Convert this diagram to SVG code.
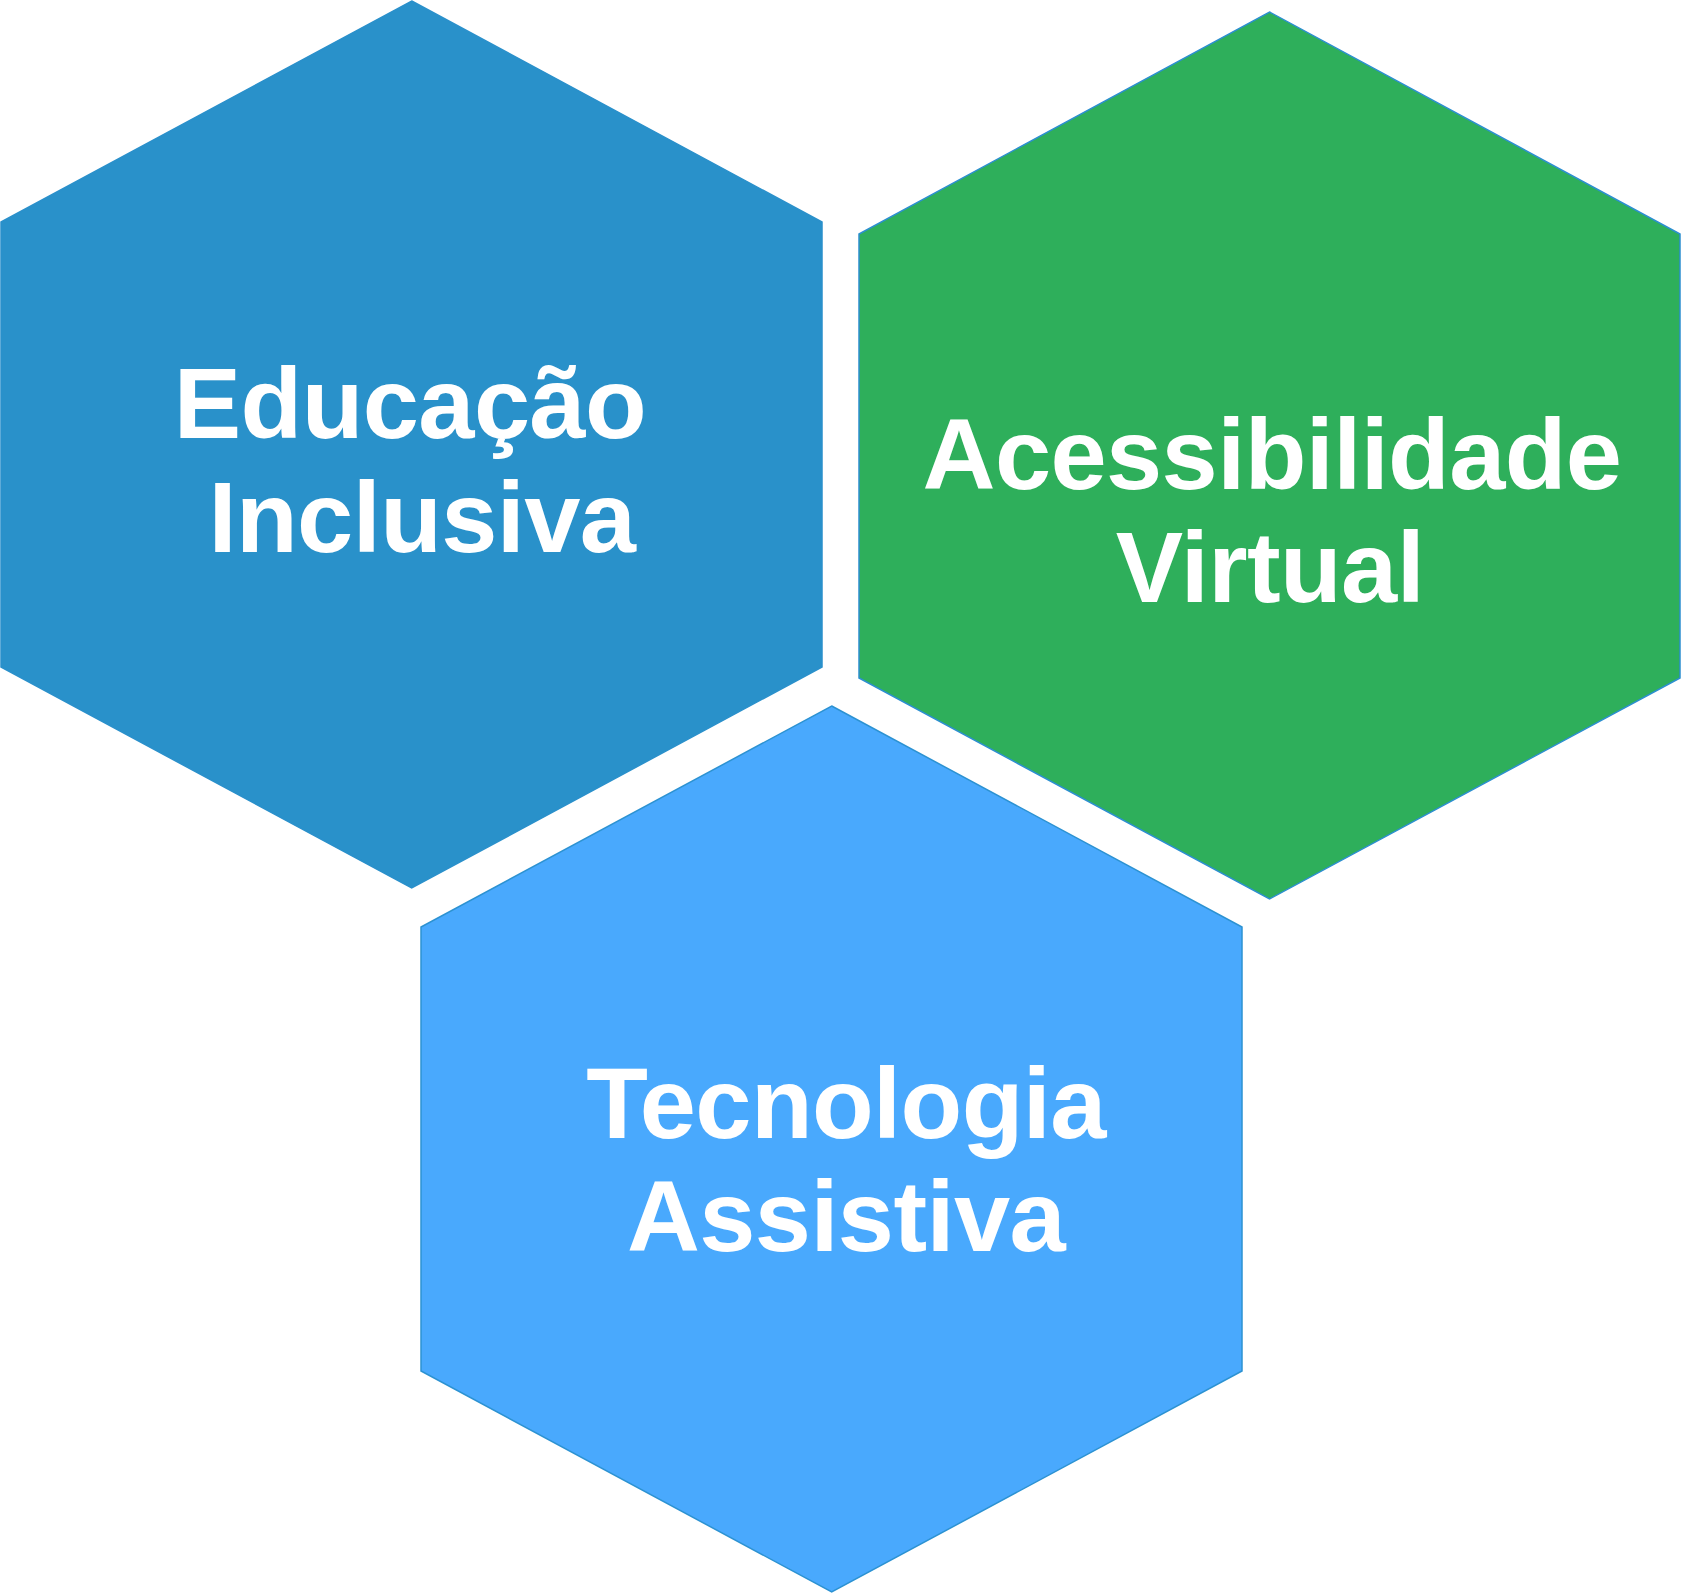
<svg xmlns="http://www.w3.org/2000/svg" width="1681" height="1594" viewBox="0 0 1681 1594">
<style>
.hex{stroke-width:1.5;stroke-linejoin:miter}
.lbl{font-family:"Liberation Sans",Arial,sans-serif;font-weight:bold;font-size:101px;letter-spacing:-0.6px;fill:#ffffff;text-anchor:middle}
</style>
<rect x="0" y="0" width="1681" height="1594" fill="#ffffff"/>
<g id="connectors"></g>
<g id="node-educacao">
<polygon class="hex" points="411.7,1 822,222 822,667 411.7,888 1,667 1,222" fill="#2991CA" stroke="#2A90CB"/>
<text class="lbl" x="410" y="438">Educação</text>
<text class="lbl" x="422" y="552">Inclusiva</text>
</g>
<g id="node-acessibilidade">
<polygon class="hex" points="1269.5,12 1680,234 1680,678 1269.5,899 859,678 859,234" fill="#2EAF5B" stroke="#2C8FD0"/>
<text class="lbl" x="1272" y="489">Acessibilidade</text>
<text class="lbl" x="1270" y="602">Virtual</text>
</g>
<g id="node-tecnologia">
<polygon class="hex" points="831.7,706 1242,927 1242,1371 831.7,1592 421,1371 421,927" fill="#49A9FD" stroke="#2C92D2" stroke-width="2"/>
<text class="lbl" x="846" y="1138">Tecnologia</text>
<text class="lbl" x="846" y="1251">Assistiva</text>
</g>
</svg>
